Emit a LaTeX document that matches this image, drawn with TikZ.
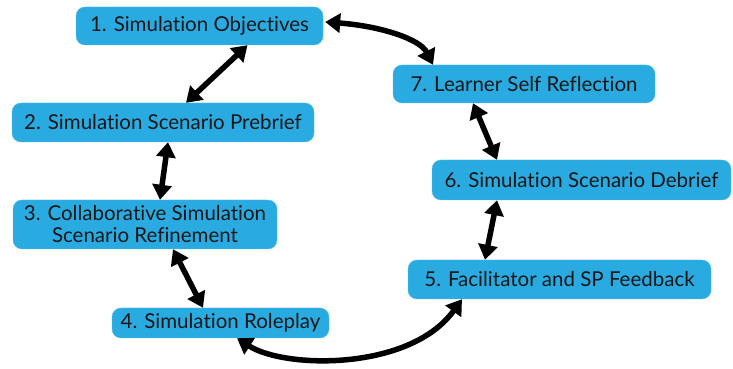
\documentclass[tikz,border=0pt]{standalone}
\usepackage{fontspec}
\setmainfont{Lato}[Ligatures=NoCommon]
\usetikzlibrary{arrows.meta}
\definecolor{stepblue}{HTML}{29ABE2}
\definecolor{steptext}{HTML}{161616}
\begin{document}
\begin{tikzpicture}[x=1pt,y=1pt]
        \tikzset{stage/.style={fill=stepblue,draw=stepblue!80!white,rounded corners=9pt,
                text=steptext,font=\fontsize{20.5}{22}\selectfont,align=center,inner sep=0pt},
            link/.style={line width=5.5pt,{Triangle[length=15pt,width=19pt]}-{Triangle[length=15pt,width=19pt]}}}
        \useasboundingbox (0,0) rectangle (733,369);
        \node[stage,minimum width=247pt,minimum height=38pt] (obj) at (199.5,343) {1. Simulation Objectives};
        \node[stage,minimum width=302pt,minimum height=39pt] (pre) at (163,246.5) {2. Simulation Scenario Prebrief};
        \node[stage,minimum width=264pt,minimum height=49pt] (ref) at (145,144.5) {3. Collaborative Simulation\\Scenario Refinement};
        \node[stage,minimum width=217pt,minimum height=30pt] (role) at (220.5,46) {4. Simulation Roleplay};
        \node[stage,minimum width=303pt,minimum height=39pt] (feed) at (559.5,89.5) {5. Facilitator and SP Feedback};
        \node[stage,minimum width=299pt,minimum height=40pt] (deb) at (581.5,189) {6. Simulation Scenario Debrief};
        \node[stage,minimum width=262pt,minimum height=38pt] (self) at (524,285) {7. Learner Self Reflection};
        \draw[link] ([xshift=48pt]obj.south) -- ([xshift=23pt]pre.north);
        \draw[link] ([xshift=5pt]pre.south) -- ([xshift=15pt]ref.north);
        \draw[link] ([xshift=28pt]ref.south) -- ([xshift=-17.5pt]role.north);
        \draw[link] ([xshift=16.5pt]role.south) .. controls (285,0) and (410,-2) .. ([xshift=-97.5pt]feed.south);
        \draw[link] ([xshift=-74.5pt]feed.north) -- ([xshift=-84.5pt]deb.south);
        \draw[link] ([xshift=-84.5pt]deb.north) -- ([xshift=-51pt]self.south);
        \draw[link] ([yshift=4pt,xshift=2pt]obj.east) .. controls (380,343) and (420,330) .. ([xshift=-91pt]self.north);
\end{tikzpicture}
\end{document}
